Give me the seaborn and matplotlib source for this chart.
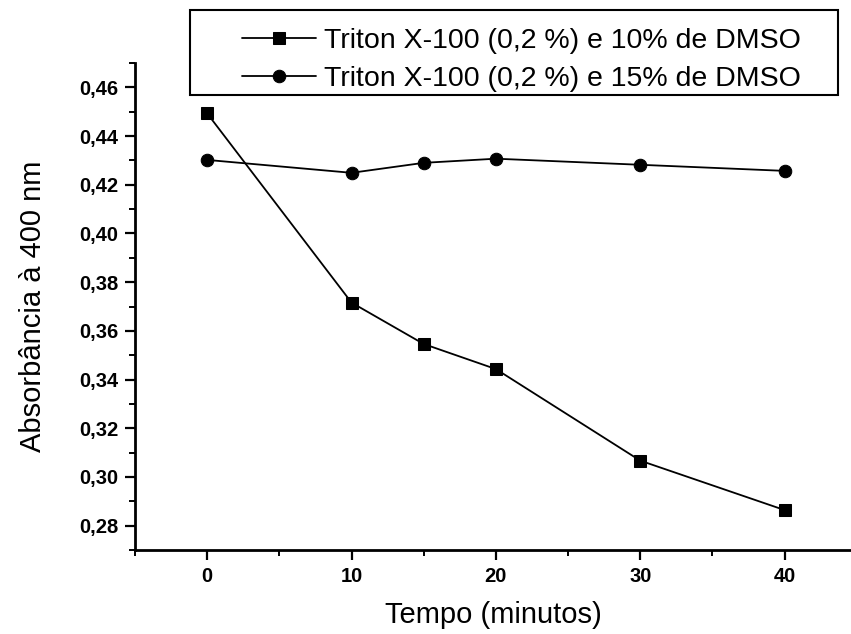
import matplotlib
matplotlib.use("Agg")
import matplotlib.pyplot as plt
import seaborn as sns
import pandas as pd
from matplotlib.patches import Rectangle
from matplotlib.ticker import MultipleLocator, FuncFormatter

tempo = [0, 10, 15, 20, 30, 40]
dmso10 = [0.4493, 0.3716, 0.3546, 0.3443, 0.3067, 0.2864]
dmso15 = [0.4302, 0.4249, 0.4290, 0.4307, 0.4282, 0.4257]
labels = ["Triton X-100 (0,2 %) e 10% de DMSO", "Triton X-100 (0,2 %) e 15% de DMSO"]

df = pd.DataFrame({
    "Tempo": tempo * 2,
    "Abs": dmso10 + dmso15,
    "Serie": [labels[0]] * len(tempo) + [labels[1]] * len(tempo),
})

sns.set_theme(style="ticks")
plt.rcParams["font.family"] = ["Liberation Sans", "DejaVu Sans"]
plt.rcParams["text.color"] = "black"
plt.rcParams["axes.labelcolor"] = "black"

W, H = 851, 634
fig = plt.figure(figsize=(W / 100, H / 100), dpi=100)
ax = fig.add_axes([135/W, 84/H, 1 - 135/W, (550-63)/H])

sns.lineplot(data=df, x="Tempo", y="Abs", hue="Serie", style="Serie",
             markers={labels[0]: "s", labels[1]: "o"}, dashes=False,
             palette={labels[0]: "black", labels[1]: "black"},
             markersize=9, linewidth=1.3, markeredgecolor="black", ax=ax)

ax.set_xlim(-5, 44.6)
ax.set_ylim(0.27, 0.47)
ax.xaxis.set_major_locator(MultipleLocator(10))
ax.xaxis.set_minor_locator(MultipleLocator(5))
ax.yaxis.set_major_locator(MultipleLocator(0.02))
ax.yaxis.set_minor_locator(MultipleLocator(0.01))
ax.yaxis.set_major_formatter(FuncFormatter(lambda v, p: f"{v:.2f}".replace(".", ",")))
ax.tick_params(which="major", direction="out", length=7, width=1.6, labelsize=14.5, colors="black", pad=5)
ax.tick_params(which="minor", direction="out", length=4, width=1.4, colors="black")
for lab in ax.get_xticklabels() + ax.get_yticklabels():
    lab.set_fontweight("bold")

for s in ["top", "right"]:
    ax.spines[s].set_visible(False)
for s in ["left", "bottom"]:
    ax.spines[s].set_linewidth(2)
    ax.spines[s].set_color("black")

ax.set_xlabel("Tempo (minutos)", fontsize=21, color="black")
ax.set_ylabel("Absorbância à 400 nm", fontsize=21, color="black")
ax.xaxis.set_label_coords(0.5, -(615 - 550) / (550 - 63))
ax.yaxis.set_label_coords(-(135 - 33) / (W - 135), 0.5)
ax.xaxis.label.set_va("center")
ax.yaxis.label.set_va("center")

# legend frame drawn as a figure rectangle
fig.patches.append(Rectangle((190/W, 1 - 95/H), (838-190)/W, 85/H, transform=fig.transFigure,
                             facecolor="white", edgecolor="black", linewidth=1.5, zorder=5))

handles, lbls = ax.get_legend_handles_labels()
ax.get_legend().remove()
cx = (238 + 805) / 2 / W
cy = 1 - 60 / H
leg = fig.legend(handles, lbls, loc="center", bbox_to_anchor=(cx, cy),
                 bbox_transform=fig.transFigure, fontsize=20.5, frameon=False,
                 handlelength=2.6, borderaxespad=0, borderpad=0.0,
                 labelspacing=0.45, handletextpad=0.3, labelcolor="black")
leg.set_zorder(10)

fig.savefig("out.png", dpi=100)
